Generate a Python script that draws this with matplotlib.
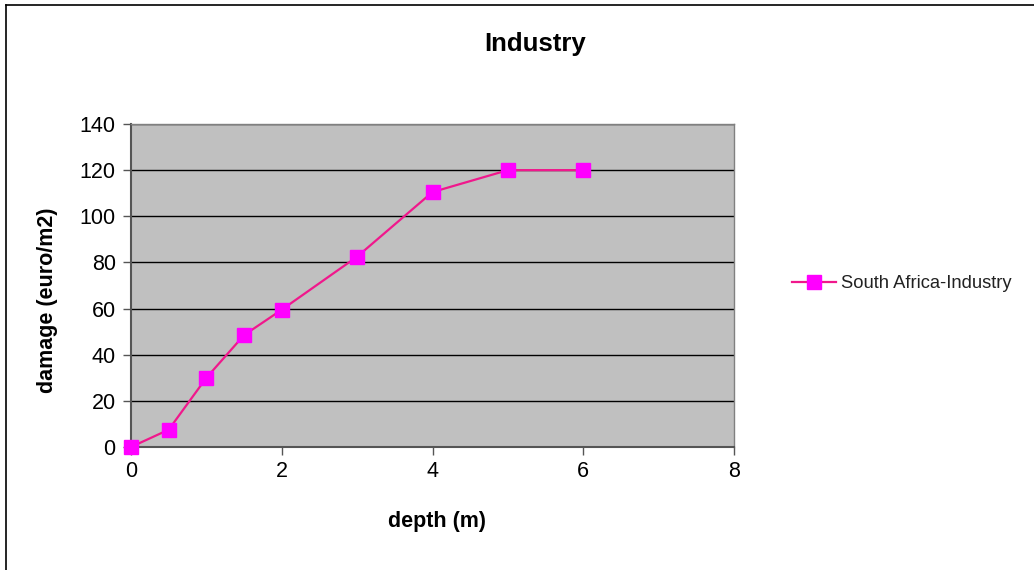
import matplotlib
matplotlib.use('Agg')
import matplotlib.pyplot as plt
from matplotlib.lines import Line2D

plt.rcParams['font.family'] = ['Liberation Sans', 'DejaVu Sans']

# data
depth = [0, 0.5, 1, 1.5, 2, 3, 4, 5, 6]
damage = [0, 7.5, 30, 48.5, 59.5, 82.5, 110.5, 120, 120]
series_name = 'South Africa-Industry'
x_ticks = [0, 2, 4, 6, 8]
y_ticks = [0, 20, 40, 60, 80, 100, 120, 140]

W, H = 1034, 570
fig = plt.figure(figsize=(W / 100, H / 100), dpi=100)
ax = fig.add_axes([131 / W, 1 - 447 / H, 603 / W, 323 / H])

ax.set_facecolor('#C0C0C0')
ax.plot(depth, damage, color='#F0188C', linewidth=1.6, marker='s',
        markersize=9.5, markerfacecolor='#FF00FF', markeredgecolor='#FF00FF',
        label=series_name, clip_on=False, zorder=3)

ax.set_xlim(0, 8)
ax.set_ylim(0, 140)
ax.set_xticks(x_ticks)
ax.set_yticks(y_ticks)
ax.tick_params(axis='both', labelsize=15.5, direction='out', length=6,
               width=1, color='#555555')
ax.tick_params(axis='y', pad=5)
ax.tick_params(axis='x', pad=4)
ax.yaxis.grid(True, color='black', linewidth=1)
ax.set_axisbelow(True)
for s in ['left', 'bottom']:
    ax.spines[s].set_color('#555555')
    ax.spines[s].set_linewidth(1.5)
for s in ['top', 'right']:
    ax.spines[s].set_color('#808080')
    ax.spines[s].set_linewidth(1)

fig.text(535 / W, 1 - 44 / H, 'Industry', fontsize=18.5, fontweight='bold',
         ha='center', va='center')
fig.text(437 / W, 1 - 521 / H, 'depth (m)', fontsize=15.5, fontweight='bold',
         ha='center', va='center')
fig.text(48 / W, 1 - 300 / H, 'damage (euro/m2)', fontsize=15.5,
         fontweight='bold', ha='center', va='center', rotation=90)

ax.legend(loc='center left', bbox_to_anchor=(775 / W, 1 - 284 / H),
          bbox_transform=fig.transFigure, frameon=False,
          fontsize=13.2, handlelength=2.4, handletextpad=0.3,
          labelcolor='#222222')

# outer chart border (left and top edges visible)
fig.add_artist(Line2D([6 / W, 6 / W], [0, 1 - 5 / H],
                      transform=fig.transFigure, color='black', linewidth=1.2))
fig.add_artist(Line2D([6 / W, 1], [1 - 5 / H, 1 - 5 / H],
                      transform=fig.transFigure, color='black', linewidth=1.2))

fig.savefig('out.png', dpi=100)
